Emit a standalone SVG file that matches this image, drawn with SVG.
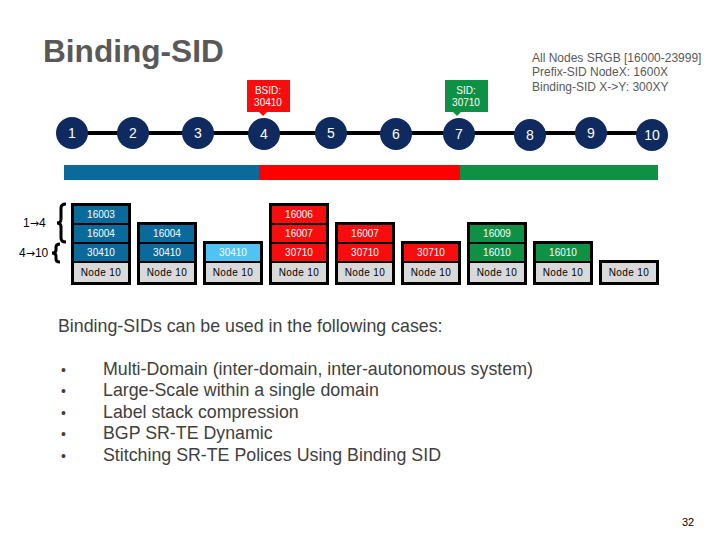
<svg xmlns="http://www.w3.org/2000/svg" width="720" height="540" viewBox="0 0 720 540">
<style>
text{font-family:"Liberation Sans",Arial,sans-serif}
.node circle{fill:#0f2a5f}
.node text{fill:#fff;font-size:14px;text-anchor:middle}
.frame{fill:#000}
.c{font-size:10px;fill:#fff;text-anchor:middle}
.n{font-size:10px;fill:#000;text-anchor:middle;letter-spacing:0.4px}
.blue{fill:#0b6a9c}
.lblue{fill:#4fc4f2}
.red{fill:#f70d0d}
.green{fill:#0e9145}
.gray{fill:#d9d9d9}
.info{font-size:12px;fill:#595959}
.body{font-size:17.8px;fill:#404040}
.arr{font-family:"DejaVu Sans",sans-serif}
</style>
<rect width="720" height="540" fill="#fff"/>
<text x="43" y="62" font-size="31.6" font-weight="bold" fill="#595959">Binding-SID</text>
<text class="info" x="532" y="62">All Nodes SRGB [16000-23999]</text>
<text class="info" x="532" y="76">Prefix-SID NodeX: 1600X</text>
<text class="info" x="532" y="91">Binding-SID X-&gt;Y: 300XY</text>

<g id="connectors">
<line x1="72" y1="133" x2="653" y2="133" stroke="#000" stroke-width="4"/>
</g>

<g id="callouts">
<g id="bsid">
<rect x="247" y="80" width="43" height="32" fill="#f70d0d"/>
<polygon points="258,111 268,111 263,116" fill="#f70d0d"/>
<text class="c" x="268" y="94">BSID:</text>
<text class="c" x="268" y="106">30410</text>
</g>
<g id="sid">
<rect x="445" y="80" width="43" height="32" fill="#0e9145"/>
<polygon points="452,111 462,111 457,116" fill="#0e9145"/>
<text class="c" x="466" y="94">SID:</text>
<text class="c" x="466" y="106">30710</text>
</g>
</g>

<g id="nodes">
<g id="n1" class="node"><circle cx="72" cy="133" r="16"/><text x="72" y="138">1</text></g>
<g id="n2" class="node"><circle cx="133" cy="133" r="16"/><text x="133" y="138">2</text></g>
<g id="n3" class="node"><circle cx="198" cy="133" r="16"/><text x="198" y="138">3</text></g>
<g id="n4" class="node"><circle cx="264" cy="134" r="16"/><text x="264" y="139">4</text></g>
<g id="n5" class="node"><circle cx="331" cy="133" r="16"/><text x="331" y="138">5</text></g>
<g id="n6" class="node"><circle cx="396" cy="134" r="16"/><text x="396" y="139">6</text></g>
<g id="n7" class="node"><circle cx="459" cy="134" r="16"/><text x="459" y="139">7</text></g>
<g id="n8" class="node"><circle cx="530" cy="135" r="16"/><text x="530" y="140">8</text></g>
<g id="n9" class="node"><circle cx="591" cy="133" r="16"/><text x="591" y="138">9</text></g>
<g id="n10" class="node"><circle cx="652" cy="135" r="16"/><text x="652" y="140">10</text></g>
</g>

<g id="bars">
<rect x="64" y="165" width="195" height="15" fill="#0b6a9c"/>
<rect x="259" y="165" width="201" height="15" fill="#ff0000"/>
<rect x="460" y="165" width="198" height="15" fill="#0e9145"/>
</g>

<g id="braces" fill="none" stroke="#000" stroke-width="3">
<path d="M66,204 Q61,204 61,208 L61,219 Q61,223 57,223 Q61,223 61,227 L61,238 Q61,242 66,242"/>
<path d="M60,244 Q56,244 56,247 L56,250 Q56,253 52,253 Q56,253 56,256 L56,259 Q56,262 60,262"/>
</g>
<text x="23" y="227" font-size="12" fill="#000">1<tspan class="arr" font-size="11">→</tspan>4</text>
<text x="19" y="257" font-size="12" fill="#000">4<tspan class="arr" font-size="11">→</tspan>10</text>

<g id="stacks">
<g id="s1">
<rect class="frame" x="71" y="203" width="60" height="82"/>
<rect class="blue" x="74" y="206" width="54" height="17"/><text class="c" x="101" y="218">16003</text>
<rect class="blue" x="74" y="225" width="54" height="17"/><text class="c" x="101" y="237">16004</text>
<rect class="blue" x="74" y="244" width="54" height="17"/><text class="c" x="101" y="256">30410</text>
<rect class="gray" x="74" y="263" width="54" height="19"/><text class="n" x="101" y="276">Node 10</text>
</g>
<g id="s2">
<rect class="frame" x="137" y="222" width="60" height="63"/>
<rect class="blue" x="140" y="225" width="54" height="17"/><text class="c" x="167" y="237">16004</text>
<rect class="blue" x="140" y="244" width="54" height="17"/><text class="c" x="167" y="256">30410</text>
<rect class="gray" x="140" y="263" width="54" height="19"/><text class="n" x="167" y="276">Node 10</text>
</g>
<g id="s3">
<rect class="frame" x="203" y="241" width="60" height="44"/>
<rect class="lblue" x="206" y="244" width="54" height="17"/><text class="c" x="233" y="256">30410</text>
<rect class="gray" x="206" y="263" width="54" height="19"/><text class="n" x="233" y="276">Node 10</text>
</g>
<g id="s4">
<rect class="frame" x="269" y="203" width="60" height="82"/>
<rect class="red" x="272" y="206" width="54" height="17"/><text class="c" x="299" y="218">16006</text>
<rect class="red" x="272" y="225" width="54" height="17"/><text class="c" x="299" y="237">16007</text>
<rect class="red" x="272" y="244" width="54" height="17"/><text class="c" x="299" y="256">30710</text>
<rect class="gray" x="272" y="263" width="54" height="19"/><text class="n" x="299" y="276">Node 10</text>
</g>
<g id="s5">
<rect class="frame" x="335" y="222" width="60" height="63"/>
<rect class="red" x="338" y="225" width="54" height="17"/><text class="c" x="365" y="237">16007</text>
<rect class="red" x="338" y="244" width="54" height="17"/><text class="c" x="365" y="256">30710</text>
<rect class="gray" x="338" y="263" width="54" height="19"/><text class="n" x="365" y="276">Node 10</text>
</g>
<g id="s6">
<rect class="frame" x="401" y="241" width="60" height="44"/>
<rect class="red" x="404" y="244" width="54" height="17"/><text class="c" x="431" y="256">30710</text>
<rect class="gray" x="404" y="263" width="54" height="19"/><text class="n" x="431" y="276">Node 10</text>
</g>
<g id="s7">
<rect class="frame" x="467" y="222" width="60" height="63"/>
<rect class="green" x="470" y="225" width="54" height="17"/><text class="c" x="497" y="237">16009</text>
<rect class="green" x="470" y="244" width="54" height="17"/><text class="c" x="497" y="256">16010</text>
<rect class="gray" x="470" y="263" width="54" height="19"/><text class="n" x="497" y="276">Node 10</text>
</g>
<g id="s8">
<rect class="frame" x="533" y="241" width="60" height="44"/>
<rect class="green" x="536" y="244" width="54" height="17"/><text class="c" x="563" y="256">16010</text>
<rect class="gray" x="536" y="263" width="54" height="19"/><text class="n" x="563" y="276">Node 10</text>
</g>
<g id="s9">
<rect class="frame" x="599" y="260" width="60" height="25"/>
<rect class="gray" x="602" y="263" width="54" height="19"/><text class="n" x="629" y="276">Node 10</text>
</g>
</g>

<text class="body" x="58" y="332">Binding-SIDs can be used in the following cases:</text>
<g class="body">
<text x="61" y="375" font-size="14">•</text><text x="103" y="375">Multi-Domain (inter-domain, inter-autonomous system)</text>
<text x="61" y="396" font-size="14">•</text><text x="103" y="396">Large-Scale within a single domain</text>
<text x="61" y="418" font-size="14">•</text><text x="103" y="418">Label stack compression</text>
<text x="61" y="439" font-size="14">•</text><text x="103" y="439">BGP SR-TE Dynamic</text>
<text x="61" y="461" font-size="14">•</text><text x="103" y="461">Stitching SR-TE Polices Using Binding SID</text>
</g>
<text x="682" y="526" font-size="11" fill="#000">32</text>
</svg>
